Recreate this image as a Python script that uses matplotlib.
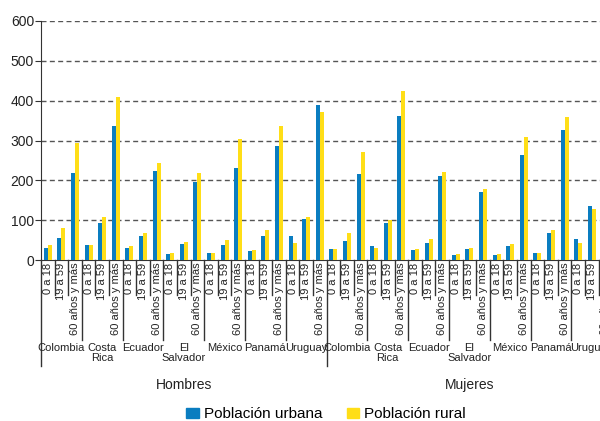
import matplotlib.pyplot as plt
import matplotlib.patches as mpatches
import matplotlib.transforms as mtransforms
import numpy as np

plt.rcParams['font.family'] = ['Liberation Sans', 'DejaVu Sans']

groups = ["Hombres", "Mujeres"]
countries = ["Colombia", "Costa\nRica", "Ecuador", "El\nSalvador", "México", "Panamá", "Uruguay"]
ages = ["0 a 18", "19 a 59", "60 años y más"]

# Hombres, then Mujeres; per country: 0-18, 19-59, 60+
urbana = [31, 56, 218, 38, 92, 336, 31, 60, 224, 15, 40, 197, 18, 38, 231, 22, 60, 285, 60, 104, 389,
          28, 47, 215, 34, 94, 361, 24, 43, 212, 12, 28, 171, 12, 34, 263, 18, 69, 326, 53, 135, 395]
rural = [37, 81, 294, 38, 107, 409, 34, 69, 244, 18, 46, 218, 18, 50, 304, 25, 76, 336, 43, 107, 371,
         28, 69, 272, 30, 101, 425, 28, 53, 222, 15, 30, 179, 15, 40, 308, 18, 76, 358, 43, 129, 380]

BLUE = "#0a7dc0"
YELLOW = "#ffde17"
LINE = "#333333"

fig = plt.figure(figsize=(6.0, 4.21), dpi=100)
W, H = 600.0, 421.0
n = len(urbana)
cat_px = 13.6
ax = fig.add_axes([41 / W, 1 - 260 / H, n * cat_px / W, 239 / H])

x = np.arange(n)
bw = 0.29
ax.bar(x - bw / 2, urbana, width=bw, color=BLUE, zorder=3)
ax.bar(x + bw / 2, rural, width=bw, color=YELLOW, zorder=3)

ax.set_xlim(-0.5, n - 0.5)
ax.set_ylim(0, 600)
ax.set_yticks(range(0, 601, 100))
ax.tick_params(axis='y', length=4, color=LINE, labelsize=10, labelcolor="#222222", pad=1)
for v in range(100, 601, 100):
    ax.axhline(v, color="#555555", lw=1, dashes=(3.6, 2.4), zorder=1)

ax.set_xticks(x)
ax.set_xticklabels(ages * (len(groups) * len(countries)), rotation=90, va='top', ha='center',
                   fontsize=8, color="#222222")
ax.tick_params(axis='x', length=0, pad=2)

for s in ["top", "right"]:
    ax.spines[s].set_visible(False)
ax.spines["left"].set_color(LINE)
ax.spines["bottom"].set_color(LINE)

# separator lines under the axis
tr = mtransforms.blended_transform_factory(ax.transData, fig.transFigure)
y0 = 1 - 260 / H
for k in range(n + 1):
    if k % 21 == 0:
        ybot = 1 - 366 / H
    elif k % 3 == 0:
        ybot = 1 - 340 / H
    else:
        ybot = 1 - 295 / H
    ax.plot([k - 0.5, k - 0.5], [y0, ybot], color=LINE, lw=1, transform=tr, clip_on=False)

# country and group labels
for g, grp in enumerate(groups):
    for c, name in enumerate(countries):
        cx = g * 21 + c * 3 + 1
        ax.text(cx, 1 - 343 / H, name, transform=tr, ha='center', va='top', fontsize=8,
                color="#222222", linespacing=1.05)
    ax.text(g * 21 + 10, 1 - 385 / H, grp, transform=tr, ha='center', va='center', fontsize=10,
            color="#222222")

handles = [mpatches.Patch(color=BLUE, label="Población urbana"),
           mpatches.Patch(color=YELLOW, label="Población rural")]
fig.legend(handles=handles, loc='center', bbox_to_anchor=(326 / W, 1 - 414 / H), ncol=2,
           frameon=False, fontsize=11, handlelength=0.83, handleheight=0.65,
           handletextpad=0.3, columnspacing=1.6)

fig.savefig("out.png", dpi=100)
